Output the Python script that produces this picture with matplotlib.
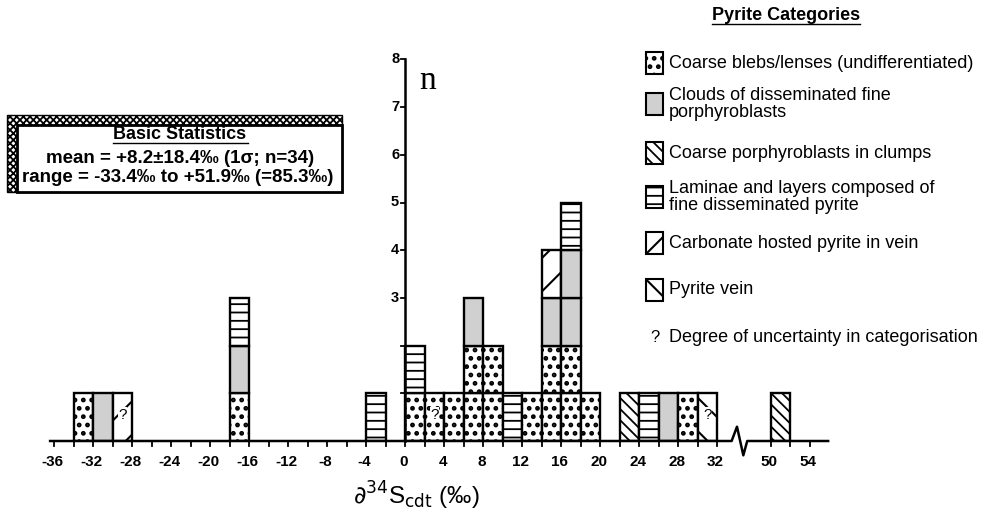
import matplotlib
matplotlib.use("Agg")
import matplotlib.pyplot as plt
from matplotlib.patches import Rectangle

plt.rcParams['font.family'] = ['Liberation Sans', 'DejaVu Sans']
plt.rcParams['hatch.linewidth'] = 1.3

# ---------------- data ----------------
bin_left = [-34, -32, -30, -18, -4, 0, 2, 4, 6, 8, 10, 12, 14, 16, 18, 22, 24, 26, 28, 30, 50]
categories = ["Coarse blebs/lenses (undifferentiated)",
              "Clouds of disseminated fine\nporphyroblasts",
              "Coarse porphyroblasts in clumps",
              "Laminae and layers composed of\nfine disseminated pyrite",
              "Carbonate hosted pyrite in vein",
              "Pyrite vein"]
blebs     = [1, 0, 0, 1, 0, 1, 1, 1, 2, 2, 0, 1, 2, 2, 1, 0, 0, 0, 1, 0, 0]
clouds    = [0, 1, 0, 1, 0, 0, 0, 0, 1, 0, 0, 0, 1, 2, 0, 0, 0, 1, 0, 0, 0]
clumps    = [0, 0, 0, 0, 0, 0, 0, 0, 0, 0, 0, 0, 0, 0, 0, 1, 0, 0, 0, 0, 1]
laminae   = [0, 0, 0, 1, 1, 1, 0, 0, 0, 0, 1, 0, 0, 1, 0, 0, 1, 0, 0, 0, 0]
carbonate = [0, 0, 1, 0, 0, 0, 0, 0, 0, 0, 0, 0, 1, 0, 0, 0, 0, 0, 0, 0, 0]
vein      = [0, 0, 0, 0, 0, 0, 0, 0, 0, 0, 0, 0, 0, 0, 0, 0, 0, 0, 0, 1, 0]
uncertain_bins = [-30, 2, 30]
x_ticks = list(range(-36, 33, 4)) + [50, 54]
y_tick_labels = [3, 4, 5, 6, 7, 8]
stats_title = "Basic Statistics"
stats_lines = ["mean = +8.2\u00b118.4\u2030 (1\u03c3; n=34)",
               "range = -33.4\u2030 to +51.9\u2030 (=85.3\u2030)"]

series = [blebs, clouds, clumps, laminae, carbonate, vein]
styles = [dict(facecolor='white', hatch='..', hlw=2.2),
          dict(facecolor='#d0d0d0', hatch=None, hlw=1.3),
          dict(facecolor='white', hatch='\\\\\\', hlw=1.3),
          dict(facecolor='white', hatch='--', hlw=1.3),
          dict(facecolor='white', hatch='/', hlw=1.5),
          dict(facecolor='white', hatch='\\', hlw=1.5)]

BREAK_SHIFT = 12.5


def u(v):
    """map real delta value to display axis coordinate (broken axis)"""
    return v - BREAK_SHIFT if v >= 48 else v


W, H = 986, 528
fig = plt.figure(figsize=(W / 100, H / 100), dpi=100)


def fx(px):
    return px / W


def fy(py):
    return 1 - py / H


# axes: x=0 at px 405, 9.75 px/unit ; y=0 at px 441, 47.7 px/unit
x0, xs = 405, 9.75
y0, ys = 441, 47.7
xl = (-36.5, 43.5)
yl = (0, 8.5)
ax = fig.add_axes([fx(x0 + xs * xl[0]), fy(y0),
                   (xl[1] - xl[0]) * xs / W, (yl[1] - yl[0]) * ys / H])
ax.set_xlim(*xl)
ax.set_ylim(*yl)
ax.axis('off')

# bars: each count unit as its own box
for i, b in enumerate(bin_left):
    level = 0
    for s, st in zip(series, styles):
        for k in range(s[i]):
            with plt.rc_context({'hatch.linewidth': st['hlw']}):
                ax.bar(u(b), 1, width=2, bottom=level, align='edge',
                       facecolor=st['facecolor'], hatch=st['hatch'],
                       edgecolor='black', linewidth=1.7, zorder=3)
            level += 1
for b in uncertain_bins:
    ax.text(u(b) + 1, 0.55, "?", ha='center', va='center', fontsize=11,
            zorder=5, bbox=dict(facecolor='white', edgecolor='none', pad=0.3))

# x axis line with break
kw = dict(color='black', lw=1.8, clip_on=False, zorder=4)
ax.plot([-36.4, 33.5, 34.05, 34.7, 35.1, 43.4],
        [0, 0, 0.3, -0.3, 0, 0], **kw)
minor = list(range(-36, 33, 2)) + [50, 52, 54]
for t in minor:
    ax.plot([u(t), u(t)], [0, -0.11], color='black', lw=1.3, clip_on=False, zorder=4)
for t in x_ticks:
    ax.text(u(t) - 0.15, -0.3, str(t), ha='center', va='top', fontsize=11,
            fontweight='bold')

# y axis
ax.plot([0, 0], [0, 8], **kw)
for t in range(1, 9):
    ax.plot([-0.45, 0], [t, t], color='black', lw=1.3, clip_on=False, zorder=4)
for t in y_tick_labels:
    ax.text(-0.6, t, str(t), ha='right', va='center', fontsize=10.5,
            fontweight='bold')
ax.text(2.36, 7.55, "n", ha='center', va='center', fontsize=24,
        family=['Liberation Serif', 'DejaVu Serif'])

# x label
fig.text(fx(416), fy(496), r"$\partial^{34}$S$_{\rm cdt}$ (‰)", ha='center',
         va='center', fontsize=17.5)

# legend
fig.text(fx(786), fy(15), "Pyrite Categories", ha='center', va='center',
         fontsize=13, fontweight='bold')
fig.add_artist(plt.Line2D([fx(712), fx(860)], [fy(24), fy(24)], color='black', lw=1.0))
LX = 669
leg_y = [63, 104, 153, 197, 243, 290]
for yy, name, st in zip(leg_y, categories, styles):
    with plt.rc_context({'hatch.linewidth': st['hlw']}):
        fig.add_artist(Rectangle((fx(LX - 23), fy(yy + 11)), 17 / W, 22 / H,
                                 facecolor=st['facecolor'], hatch=st['hatch'],
                                 edgecolor='black', linewidth=1.5))
    fig.text(fx(LX), fy(yy), name, ha='left', va='center', fontsize=13,
             linespacing=0.95)
fig.text(fx(LX - 14), fy(337), "?", ha='center', va='center', fontsize=12)
fig.text(fx(LX), fy(337), "Degree of uncertainty in categorisation", ha='left',
         va='center', fontsize=13)

# statistics box with hatched shadow border
BR = 342
fig.add_artist(Rectangle((fx(7), fy(192)), (BR - 7) / W, 77 / H, facecolor='white',
                         edgecolor='black', hatch='xxxxx', linewidth=1.0))
fig.add_artist(Rectangle((fx(17), fy(192)), (BR - 17) / W, 67 / H, facecolor='white',
                         edgecolor='black', linewidth=2.0))
fig.text(fx(180), fy(135), stats_title, ha='center', va='center', fontsize=13,
         fontweight='bold')
fig.add_artist(plt.Line2D([fx(113), fx(248)], [fy(143), fy(143)], color='black', lw=1.0))
fig.text(fx(180), fy(158), stats_lines[0], ha='center', va='center', fontsize=13.5,
         fontweight='bold')
fig.text(fx(178), fy(178), stats_lines[1], ha='center', va='center', fontsize=13.5,
         fontweight='bold')

fig.savefig("out.png", dpi=100)
